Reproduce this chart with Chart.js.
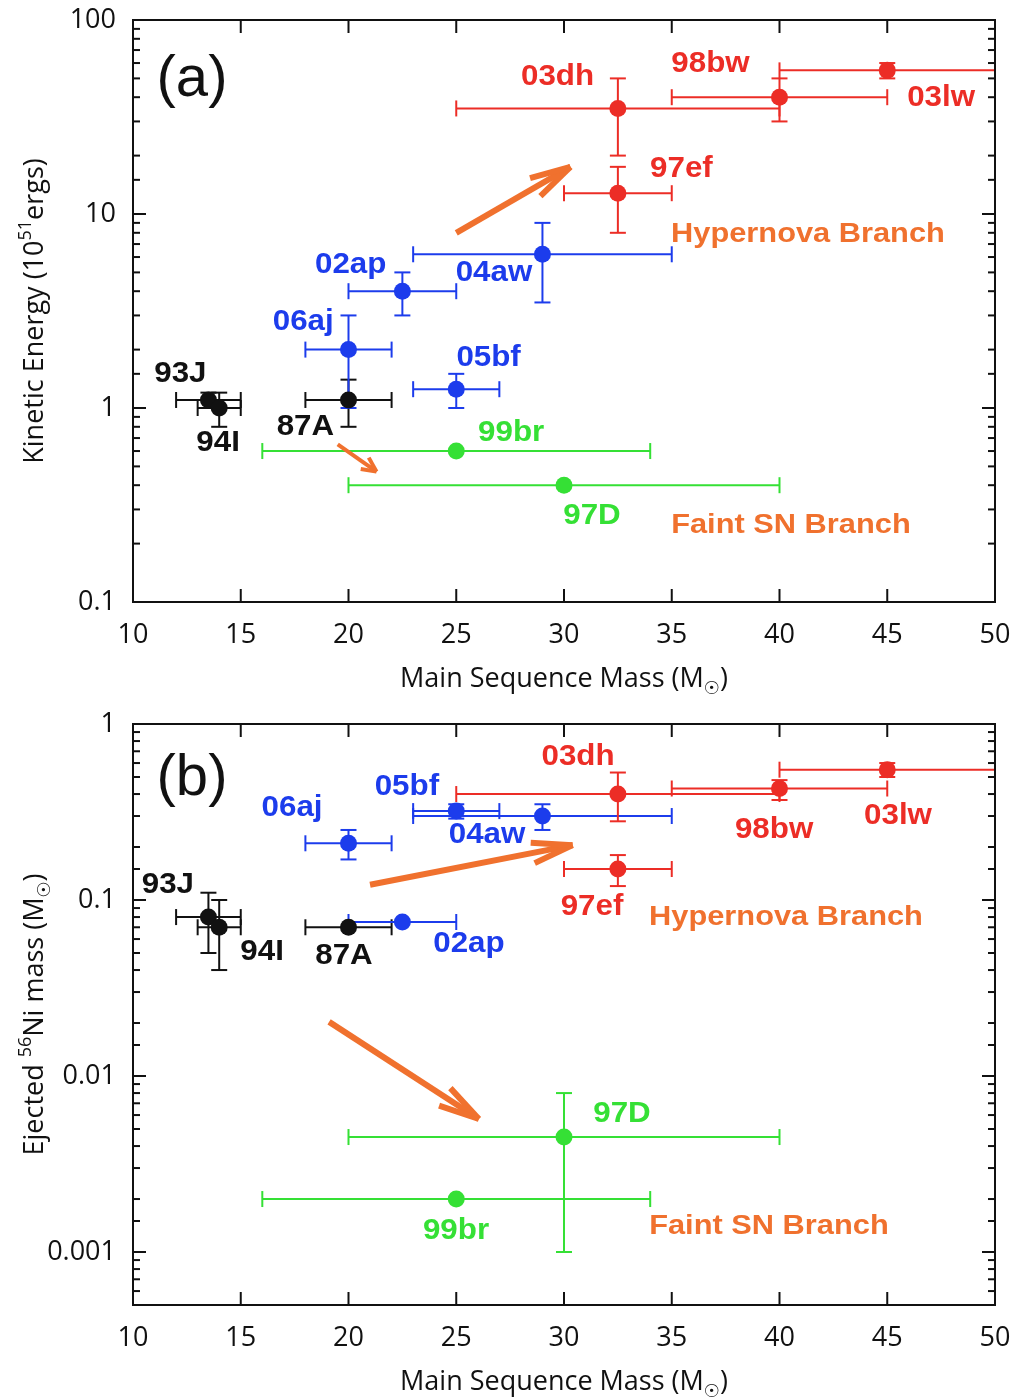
<!DOCTYPE html>
<html lang="en">
<head>
<meta charset="utf-8">
<title>SN kinetic energy and 56Ni mass</title>
<script src="https://cdn.jsdelivr.net/npm/chart.js"></script>
<style>
  body { margin: 0; background: #fff; }
  canvas { display: block; }
</style>
</head>
<body>
<canvas id="chartA" width="1016" height="699"></canvas>
<canvas id="chartB" width="1016" height="699"></canvas>
<script>
// supernovae and their colour group
const snNames = ['93J', '94I', '87A', '06aj', '02ap', '05bf', '04aw', '97ef', '03dh', '98bw', '03lw', '99br', '97D'];
const snGroup = ['black', 'black', 'black', 'blue', 'blue', 'blue', 'blue', 'red', 'red', 'red', 'red', 'green', 'green'];

// main sequence mass (Msun) with its range
const massMid = [13.5, 14, 20, 20, 22.5, 25, 29, 32.5, 32.5, 40, 45, 25, 30];
const massLo  = [12, 13, 18, 18, 20, 23, 23, 30, 25, 35, 40, 16, 20];
const massHi  = [15, 15, 22, 22, 25, 27, 35, 35, 40, 45, 55, 34, 40];

// kinetic energy (1e51 erg)
const energy   = [1.1, 1.0, 1.1, 2.0, 4.0, 1.25, 6.2, 12.8, 35, 40, 55, 0.6, 0.4];
const energyLo = [1.0, 0.8, 0.8, 1.0, 3.0, 1.0, 3.5, 8.0, 20, 30, 50, null, null];
const energyHi = [1.2, 1.2, 1.4, 3.0, 5.0, 1.5, 9.0, 17.5, 50, 50, 60, null, null];

// ejected 56Ni mass (Msun)
const nickel   = [0.08, 0.07, 0.07, 0.21, 0.075, 0.32, 0.30, 0.15, 0.40, 0.43, 0.55, 0.002, 0.0045];
const nickelLo = [0.05, 0.04, null, 0.17, null, 0.29, 0.25, 0.12, 0.28, 0.37, 0.50, null, 0.001];
const nickelHi = [0.11, 0.10, null, 0.25, null, 0.35, 0.35, 0.18, 0.53, 0.48, 0.60, null, 0.008];

// tick labels
const massTicks = [10, 15, 20, 25, 30, 35, 40, 45, 50];
const energyTicks = ['0.1', '1', '10', '100'];
const nickelTicks = ['0.001', '0.01', '0.1', '1'];

// where the names sit (data coordinates)
const labelMassA   = [12.2, 13.95, 18.0, 17.9, 20.1, 26.5, 26.75, 35.45, 29.7, 36.8, 47.5, 27.55, 31.3];
const labelEnergyA = [1.5, 0.66, 0.80, 2.77, 5.46, 1.81, 4.97, 17.1, 50.8, 59.3, 39.6, 0.74, 0.277];
const labelMassB   = [11.62, 15.99, 19.79, 17.38, 25.59, 22.71, 26.43, 31.3, 30.65, 39.75, 45.5, 24.99, 32.69];
const labelNickelB = [0.122, 0.0507, 0.0481, 0.333, 0.0562, 0.438, 0.233, 0.0915, 0.65, 0.25, 0.30, 0.001316, 0.00608];

// branch notes and arrows: [text, x, y] and [x0, y0, x1, y1]
const branchA = [['Hypernova Branch', 41.32, 7.88], ['Faint SN Branch', 40.53, 0.249]];
const branchB = [['Hypernova Branch', 40.3, 0.080], ['Faint SN Branch', 39.51, 0.001406]];
const arrowsA = [[25, 8, 30.3, 17.5], [19.5, 0.65, 21.3, 0.47]];
const arrowsB = [[21.0, 0.122, 30.4, 0.205], [19.1, 0.0203, 26.05, 0.0057]];

const colors = { black: '#111111', blue: '#1c3cec', red: '#ec2d26', green: '#35e035' };
const orange = '#f0712e';
const axisFont = "'Open Sans', 'Noto Sans', 'DejaVu Sans', sans-serif";
const tagFont = "'Liberation Sans', Arial, sans-serif";

function line(ctx, x0, y0, x1, y1) {
  ctx.beginPath(); ctx.moveTo(x0, y0); ctx.lineTo(x1, y1); ctx.stroke();
}

// text with super/subscripts, centred at (cx, cy), optionally rotated
function drawRich(ctx, parts, cx, cy, size, rot) {
  ctx.save();
  ctx.translate(cx, cy);
  if (rot) ctx.rotate(rot);
  const fonts = parts.map(p => (p.s ? Math.round(size * 0.68) : size) + 'px ' + axisFont);
  let w = 0;
  const ws = parts.map((p, i) => { ctx.font = fonts[i]; const m = ctx.measureText(p.t).width; w += m; return m; });
  let x = -w / 2;
  ctx.fillStyle = '#111';
  ctx.textBaseline = 'alphabetic';
  parts.forEach((p, i) => {
    ctx.font = fonts[i];
    const dy = p.s === 'sup' ? -size * 0.42 : p.s === 'sub' ? size * 0.28 : 0;
    ctx.fillText(p.t, x, size * 0.36 + dy);
    x += ws[i];
  });
  ctx.restore();
}

// bold label, a little wider than the plain face
function wideText(ctx, text, x, y, stretch) {
  ctx.save();
  ctx.translate(x, y);
  ctx.scale(stretch, 1);
  ctx.fillText(text, 0, 0);
  ctx.restore();
}

function arrow(ctx, x0, y0, x1, y1, head, spread) {
  const ang = Math.atan2(y1 - y0, x1 - x0);
  line(ctx, x0, y0, x1, y1);
  [-spread, spread].forEach(s => {
    line(ctx, x1, y1, x1 - head * Math.cos(ang + s), y1 - head * Math.sin(ang + s));
  });
}

const decor = {
  id: 'decor',
  beforeDatasetsDraw(chart, args, o) {
    const { ctx, chartArea: a, scales: { x, y } } = chart;
    ctx.save();
    ctx.beginPath(); ctx.rect(a.left, a.top, a.right - a.left, a.bottom - a.top); ctx.clip();
    ctx.lineWidth = 2;
    const cap = 8;
    snNames.forEach((n, i) => {
      ctx.strokeStyle = colors[snGroup[i]];
      const py = y.getPixelForValue(o.val[i]);
      const px = x.getPixelForValue(massMid[i]);
      const xl = x.getPixelForValue(massLo[i]), xh = x.getPixelForValue(massHi[i]);
      line(ctx, xl, py, xh, py);
      line(ctx, xl, py - cap, xl, py + cap);
      line(ctx, xh, py - cap, xh, py + cap);
      if (o.lo[i] !== null) {
        const yl = y.getPixelForValue(o.lo[i]), yh = y.getPixelForValue(o.hi[i]);
        line(ctx, px, yl, px, yh);
        line(ctx, px - cap, yl, px + cap, yl);
        line(ctx, px - cap, yh, px + cap, yh);
      }
    });
    ctx.restore();
  },
  afterDraw(chart, args, o) {
    const { ctx, chartArea: a, scales: { x, y } } = chart;
    ctx.save();
    // frame with inward ticks on all sides
    ctx.strokeStyle = '#111'; ctx.lineWidth = 2;
    ctx.strokeRect(a.left, a.top, a.right - a.left, a.bottom - a.top);
    x.ticks.forEach(t => {
      const px = x.getPixelForValue(t.value);
      line(ctx, px, a.bottom, px, a.bottom - 13);
      line(ctx, px, a.top, px, a.top + 13);
    });
    y.ticks.forEach(t => {
      const py = y.getPixelForValue(t.value);
      const l = Math.log10(t.value);
      const len = Math.abs(l - Math.round(l)) < 1e-6 ? 13 : 7;
      line(ctx, a.left, py, a.left + len, py);
      line(ctx, a.right, py, a.right - len, py);
    });

    // arrows
    ctx.strokeStyle = orange; ctx.lineCap = 'butt';
    o.arrows.forEach((r, k) => {
      const big = k === 0 || o.bigBoth;
      ctx.lineWidth = big ? 6 : 4;
      arrow(ctx, x.getPixelForValue(r[0]), y.getPixelForValue(r[1]),
        x.getPixelForValue(r[2]), y.getPixelForValue(r[3]), big ? 42 : 16, big ? 0.25 : 0.45);
    });

    // names
    ctx.textAlign = 'center'; ctx.textBaseline = 'middle';
    ctx.font = 'bold 29px ' + tagFont;
    snNames.forEach((n, i) => {
      ctx.fillStyle = colors[snGroup[i]];
      wideText(ctx, n, x.getPixelForValue(o.lx[i]), y.getPixelForValue(o.ly[i]), 1.08);
    });
    ctx.font = 'bold 28px ' + tagFont;
    ctx.fillStyle = orange;
    o.branch.forEach(b => wideText(ctx, b[0], x.getPixelForValue(b[1]), y.getPixelForValue(b[2]), 1.1));

    // panel tag
    ctx.font = '58px ' + tagFont;
    ctx.fillStyle = '#111';
    ctx.fillText(o.tag, a.left + 59, a.top + o.tagDy);
    ctx.restore();

    // axis titles
    const sun = { t: '\u2609', s: 'sub' };
    drawRich(ctx, [{ t: 'Main Sequence Mass (M' }, sun, { t: ')' }], (a.left + a.right) / 2, a.bottom + 75, 27);
    drawRich(ctx, o.ytitle, 33, (a.top + a.bottom) / 2, 27, -Math.PI / 2);
  }
};

function panel(id, cfg) {
  const datasets = Object.keys(colors).map(g => ({
    data: snNames.map((n, i) => ({ x: massMid[i], y: cfg.val[i], g: snGroup[i] })).filter(p => p.g === g),
    backgroundColor: colors[g],
    borderWidth: 0,
    pointRadius: 8.5,
    pointHoverRadius: 8.5
  }));
  return new Chart(document.getElementById(id), {
    type: 'scatter',
    data: { datasets },
    options: {
      responsive: false,
      animation: false,
      events: [],
      layout: { padding: { left: 0, right: 21, top: cfg.top, bottom: 0 } },
      plugins: {
        legend: { display: false },
        tooltip: { enabled: false },
        decor: cfg
      },
      scales: {
        x: {
          type: 'linear', min: massTicks[0], max: massTicks[massTicks.length - 1],
          afterBuildTicks: s => { s.ticks = massTicks.map(v => ({ value: v })); },
          ticks: { color: '#111', font: { family: axisFont, size: 27 }, padding: 17, maxRotation: 0 },
          grid: { display: false, drawTicks: false },
          border: { display: false },
          afterFit: s => { s.height = cfg.xh; s.paddingLeft = 0; s.paddingRight = 0; }
        },
        y: {
          type: 'logarithmic', min: cfg.min, max: cfg.max,
          ticks: {
            color: '#111', font: { family: axisFont, size: 27 }, padding: 17, autoSkip: false,
            callback: v => {
              const l = Math.log10(v);
              if (Math.abs(l - Math.round(l)) > 1e-6) return '';
              return cfg.yticks[Math.round(l) - cfg.firstDecade];
            }
          },
          grid: { display: false, drawTicks: false },
          border: { display: false },
          afterFit: s => { s.width = 133; s.paddingTop = 0; s.paddingBottom = 0; }
        }
      }
    },
    plugins: [decor]
  });
}

panel('chartA', {
  val: energy, lo: energyLo, hi: energyHi, min: 0.1, max: 100, top: 20, xh: 97,
  yticks: energyTicks, firstDecade: -1, lx: labelMassA, ly: labelEnergyA,
  branch: branchA, arrows: arrowsA, bigBoth: false, tag: '(a)', tagDy: 60,
  ytitle: [{ t: 'Kinetic Energy (10' }, { t: '51', s: 'sup' }, { t: 'ergs)' }]
});

panel('chartB', {
  val: nickel, lo: nickelLo, hi: nickelHi, min: 0.0005, max: 1, top: 25, xh: 93,
  yticks: nickelTicks, firstDecade: -3, lx: labelMassB, ly: labelNickelB,
  branch: branchB, arrows: arrowsB, bigBoth: true, tag: '(b)', tagDy: 55,
  ytitle: [{ t: 'Ejected ' }, { t: '56', s: 'sup' }, { t: 'Ni mass (M' }, { t: '\u2609', s: 'sub' }, { t: ')' }]
});
</script>
</body>
</html>
